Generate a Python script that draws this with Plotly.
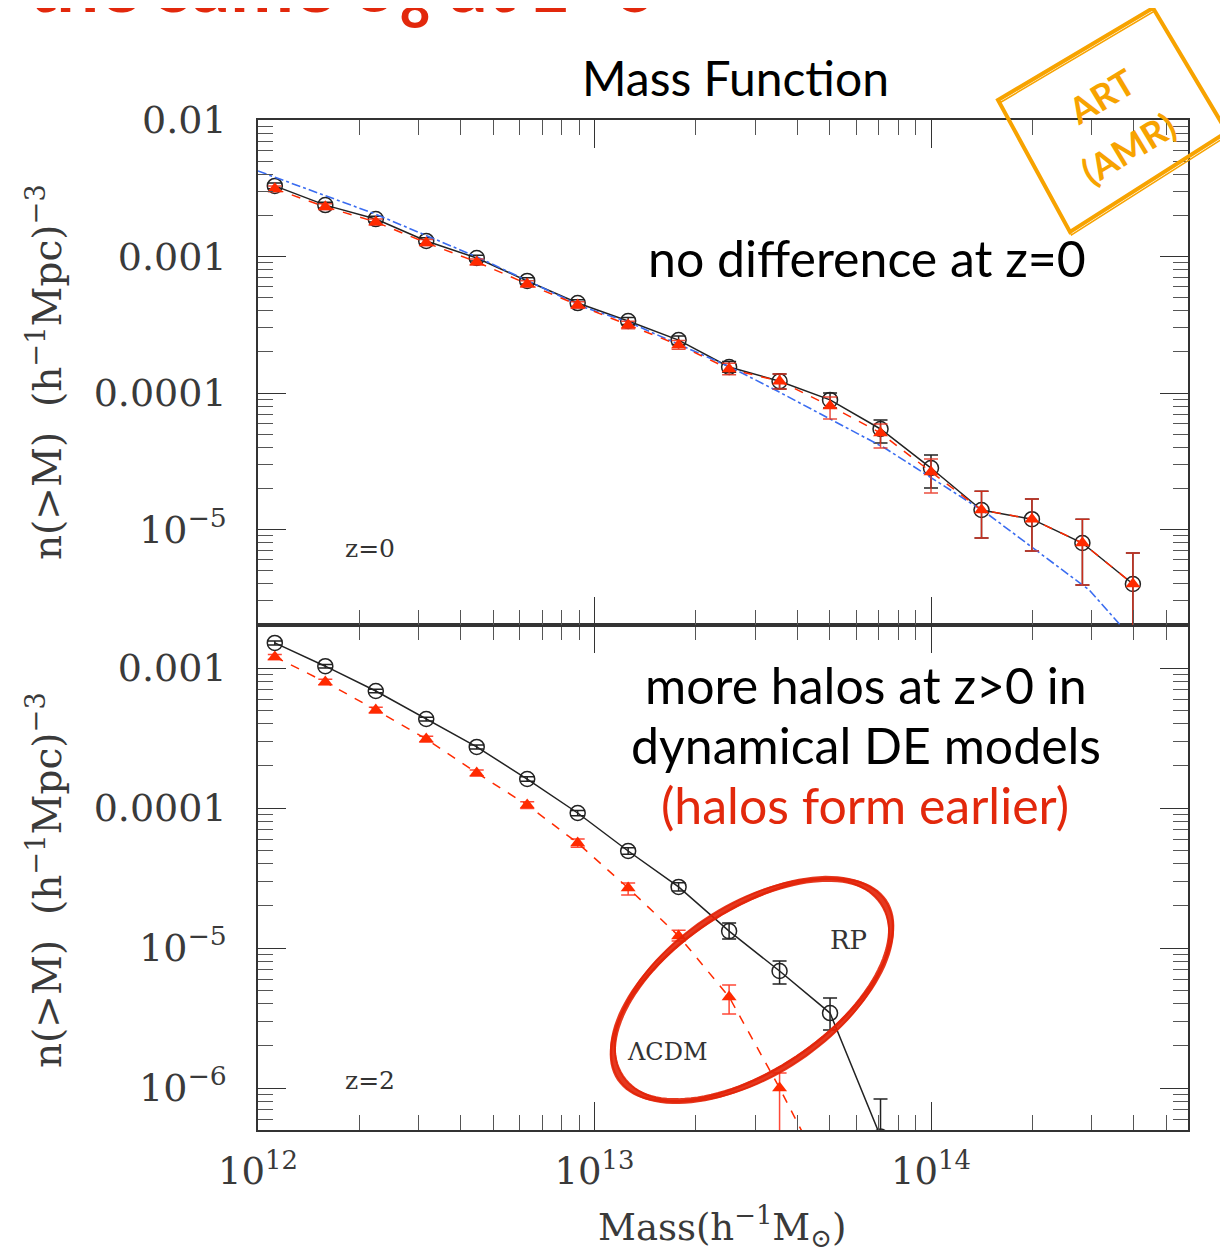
import numpy as np
import plotly.graph_objects as go

# ---------------- data ----------------
mass = [1.122e12, 1.585e12, 2.239e12, 3.162e12, 4.467e12, 6.310e12, 8.913e12,
        1.259e13, 1.778e13, 2.512e13, 3.548e13, 5.012e13, 7.079e13, 1.000e14,
        1.413e14, 1.995e14, 2.818e14, 3.981e14]

# z = 0 panel
rp_z0 = [3.29e-3, 2.38e-3, 1.88e-3, 1.30e-3, 9.75e-4, 6.62e-4, 4.56e-4, 3.37e-4, 2.44e-4,
         1.55e-4, 1.22e-4, 8.9e-5, 5.45e-5, 2.82e-5, 1.39e-5, 1.19e-5, 7.96e-6, 3.99e-6]
rp_z0_hi = [3.45e-3, 2.50e-3, 1.97e-3, 1.37e-3, 1.02e-3, 6.98e-4, 4.82e-4, 3.58e-4, 2.62e-4,
            1.70e-4, 1.38e-4, 1.00e-4, 6.34e-5, 3.52e-5, 1.91e-5, 1.67e-5, 1.19e-5, 6.73e-6]
rp_z0_lo = [3.13e-3, 2.27e-3, 1.79e-3, 1.24e-3, 9.25e-4, 6.28e-4, 4.31e-4, 3.17e-4, 2.27e-4,
            1.42e-4, 1.07e-4, 7.76e-5, 4.30e-5, 2.01e-5, 8.67e-6, 6.95e-6, 3.92e-6, 1e-8]

lcdm_z0 = [3.13e-3, 2.31e-3, 1.79e-3, 1.26e-3, 9.12e-4, 6.30e-4, 4.42e-4, 3.15e-4, 2.25e-4,
           1.50e-4, 1.22e-4, 8.04e-5, 5.09e-5, 2.64e-5, 1.39e-5, 1.19e-5, 7.96e-6, 3.99e-6]
lcdm_z0_hi = [3.29e-3, 2.43e-3, 1.88e-3, 1.33e-3, 9.6e-4, 6.65e-4, 4.67e-4, 3.35e-4, 2.42e-4,
              1.65e-4, 1.38e-4, 9.35e-5, 5.93e-5, 3.28e-5, 1.91e-5, 1.67e-5, 1.19e-5, 6.73e-6]
lcdm_z0_lo = [2.98e-3, 2.20e-3, 1.70e-3, 1.20e-3, 8.66e-4, 5.97e-4, 4.18e-4, 2.96e-4, 2.09e-4,
              1.36e-4, 1.07e-4, 6.46e-5, 3.95e-5, 1.85e-5, 8.67e-6, 6.95e-6, 3.92e-6, 1e-8]

theory_mass = [1.0e12, 2.23e12, 4.48e12, 9.25e12, 1.26e13, 2.53e13, 3.53e13, 7.29e13,
               1.46e14, 2.09e14, 2.95e14, 3.65e14, 4.47e14]
theory_z0 = [4.23e-3, 2.05e-3, 9.91e-4, 4.27e-4, 3.31e-4, 1.55e-4, 1.02e-4, 3.95e-5,
             1.32e-5, 6.84e-6, 3.61e-6, 2.0e-6, 1.12e-6]

# z = 2 panel
rp_z2 = [1.51e-3, 1.03e-3, 6.85e-4, 4.32e-4, 2.73e-4, 1.61e-4, 9.21e-5, 4.93e-5, 2.73e-5,
         1.32e-5, 6.85e-6, 3.43e-6, 4.5e-7]
rp_z2_hi = [1.56e-3, 1.06e-3, 7.05e-4, 4.45e-4, 2.82e-4, 1.67e-4, 9.6e-5, 5.2e-5, 2.92e-5,
            1.51e-5, 8.07e-6, 4.40e-6, 8.34e-7]
rp_z2_lo = [1.46e-3, 1.00e-3, 6.65e-4, 4.19e-4, 2.64e-4, 1.55e-4, 8.8e-5, 4.67e-5, 2.55e-5,
            1.16e-5, 5.53e-6, 2.60e-6, 1e-8]

lcdm_z2 = [1.20e-3, 7.94e-4, 5.01e-4, 3.11e-4, 1.78e-4, 1.05e-4, 5.62e-5, 2.68e-5, 1.22e-5,
           4.47e-6, 1.0e-6, 2.0e-7]
lcdm_z2_hi = [1.25e-3, 8.3e-4, 5.25e-4, 3.26e-4, 1.87e-4, 1.11e-4, 6.0e-5, 2.91e-5, 1.34e-5,
              5.45e-6, 1.28e-6, 2.5e-7]
lcdm_z2_lo = [1.15e-3, 7.6e-4, 4.78e-4, 2.96e-4, 1.69e-4, 9.9e-5, 5.25e-5, 2.39e-5, 1.12e-5,
              3.38e-6, 1e-8, 1e-8]

x_tickvals = [1e12, 1e13, 1e14]
x_ticktext = ["10<sup>12</sup>", "10<sup>13</sup>", "10<sup>14</sup>"]
y_top_tickvals = [1e-2, 1e-3, 1e-4, 1e-5]
y_top_ticktext = ["0.01", "0.001", "0.0001", "10<sup>−5</sup>"]
y_bot_tickvals = [1e-3, 1e-4, 1e-5, 1e-6]
y_bot_ticktext = ["0.001", "0.0001", "10<sup>−5</sup>", "10<sup>−6</sup>"]

# ---------------- styling ----------------
OFF = 8                      # browser body margin
W, H = 1228 - OFF, 1254 - OFF
ML, MR, MT, MB = 258 - OFF, 40, 120 - OFF, 124
PW, PH = W - ML - MR, H - MT - MB
BLACK = "#222222"
RED = "#ff2a00"
BLUE = "#3a6cf0"
TXTRED = "#e2280c"
ORANGE = "#f7a300"
SERIF = "DejaVu Serif"
SANS = "Lato"


def px(xp):
    return (xp - OFF - ML) / PW


def py(yp):
    return (MT + PH - (yp - OFF)) / PH


def errs(v, hi, lo):
    v, hi, lo = np.array(v), np.array(hi), np.array(lo)
    return dict(type="data", symmetric=False, array=hi - v, arrayminus=v - lo)


fig = go.Figure()

# top panel (xaxis2 / yaxis2)
e = errs(rp_z0, rp_z0_hi, rp_z0_lo)
e.update(color=BLACK, thickness=1.5, width=7)
fig.add_trace(go.Scatter(x=mass, y=rp_z0, xaxis="x2", yaxis="y2", mode="lines+markers",
                         line=dict(color=BLACK, width=1.5),
                         marker=dict(symbol="circle-open", size=15, color=BLACK, line=dict(width=1.5)),
                         error_y=e, showlegend=False))
fig.add_trace(go.Scatter(x=theory_mass, y=theory_z0, xaxis="x2", yaxis="y2", mode="lines",
                         line=dict(color=BLUE, width=1.6, dash="dashdot"), showlegend=False))
e = errs(lcdm_z0, lcdm_z0_hi, lcdm_z0_lo)
e.update(color="rgba(232,48,28,0.85)", thickness=1.5, width=7)
fig.add_trace(go.Scatter(x=mass, y=lcdm_z0, xaxis="x2", yaxis="y2", mode="lines+markers",
                         line=dict(color=RED, width=1.5, dash="dash"),
                         marker=dict(symbol="triangle-up", size=13, color=RED),
                         error_y=e, showlegend=False))

# bottom panel (xaxis / yaxis)
e = errs(rp_z2, rp_z2_hi, rp_z2_lo)
e.update(color=BLACK, thickness=1.5, width=7)
fig.add_trace(go.Scatter(x=mass[:len(rp_z2)], y=rp_z2, mode="lines+markers",
                         line=dict(color=BLACK, width=1.5),
                         marker=dict(symbol="circle-open", size=15, color=BLACK, line=dict(width=1.5)),
                         error_y=e, showlegend=False))
e = errs(lcdm_z2, lcdm_z2_hi, lcdm_z2_lo)
e.update(color="rgba(255,40,20,0.85)", thickness=1.5, width=7)
fig.add_trace(go.Scatter(x=mass[:len(lcdm_z2)], y=lcdm_z2, mode="lines+markers",
                         line=dict(color=RED, width=1.5, dash="dash"),
                         marker=dict(symbol="triangle-up", size=13, color=RED),
                         error_y=e, showlegend=False))

minor_x = [k * 10.0 ** d for d in range(11, 16) for k in range(2, 10)]
minor_y = [k * 10.0 ** d for d in range(-9, -1) for k in range(2, 10)]

xcommon = dict(type="log", range=[12, 12 + PW / 336.5], showline=True, linecolor="#333",
               linewidth=1.5, mirror="allticks", ticks="inside", ticklen=28, tickwidth=1.3,
               tickcolor="#333", showgrid=False, zeroline=False,
               tickmode="array", tickvals=x_tickvals,
               minor=dict(ticks="inside", ticklen=15, tickwidth=1.2, tickcolor="#555",
                          tickmode="array", tickvals=minor_x, showgrid=False))
ycommon = dict(type="log", showline=True, linecolor="#333", linewidth=1.5, mirror="allticks",
               ticks="inside", ticklen=28, tickwidth=1.3, tickcolor="#333", showgrid=False,
               zeroline=False, tickmode="array",
               tickfont=dict(family=SERIF, size=38, color="#3a3a3a"), ticklabelstandoff=22,
               minor=dict(ticks="inside", ticklen=15, tickwidth=1.2, tickcolor="#555",
                          tickmode="array", tickvals=minor_y, showgrid=False))

fig.update_layout(
    width=W, height=H, margin=dict(l=ML, r=MR, t=MT, b=MB, autoexpand=False),
    paper_bgcolor="white", plot_bgcolor="white",
    xaxis=dict(**xcommon, anchor="y", domain=[0, 1], ticktext=x_ticktext,
               tickfont=dict(family=SERIF, size=37, color="#3a3a3a"), ticklabelstandoff=8),
    xaxis2=dict(**xcommon, anchor="y2", domain=[0, 1], showticklabels=False),
    yaxis=dict(**ycommon, anchor="x", domain=[0, 0.5], range=[-6.3, -3 + 43 / 140],
               tickvals=y_bot_tickvals, ticktext=y_bot_ticktext),
    yaxis2=dict(**ycommon, anchor="x2", domain=[0.5, 1], range=[-2 - 505 / 136.5, -2],
                tickvals=y_top_tickvals, ticktext=y_top_ticktext),
)

ann = []


def text(t, xp, yp, size, color="black", family=SANS, angle=0, xanchor="center", yanchor="middle"):
    ann.append(dict(text=t, x=px(xp), y=py(yp), xref="paper", yref="paper", showarrow=False,
                    font=dict(family=family, size=size, color=color), textangle=angle,
                    xanchor=xanchor, yanchor=yanchor))


text("<b>the same σ<sub>8</sub> at z=0</b>", 342, 41, 76, TXTRED, yanchor="bottom")
text("Mass Function", 735, 78, 48)
text("no difference at z=0", 867, 258, 50)
text("more halos at z>0 in", 866, 685, 50)
text("dynamical DE models", 866, 745, 50)
text("(halos form earlier)", 865, 805, 50, TXTRED)
text("z=0", 370, 548, 25, "#333", SERIF)
text("z=2", 370, 1080, 25, "#333", SERIF)
text("RP", 848, 940, 26, "#333", SERIF)
text("ΛCDM", 667, 1052, 24, "#333", SERIF)
text("Mass(h<sup>−1</sup>M<sub>⊙</sub>)", 722, 1226, 37, "#3a3a3a", SERIF)
ytitle = "n(>M)  (h<sup>−1</sup>Mpc)<sup>−3</sup>"
text(ytitle, 45, 372, 39, "#3a3a3a", SERIF, angle=-90)
text(ytitle, 45, 880, 39, "#3a3a3a", SERIF, angle=-90)
text("<b>ART</b>", 1101, 96, 36, ORANGE, SANS, angle=-31)
text("<b>(AMR)</b>", 1128, 148, 36, ORANGE, SANS, angle=-31)
fig.update_layout(annotations=ann)

shapes = []
# hand-drawn ellipse around the high-mass z=2 points
cx, cy, a, b, th = 752, 990, 158, 82, np.deg2rad(33.75)
for da, db, wdt in [(0, 0, 6), (3, -2, 2.5), (-3, 3, 2)]:
    t = np.linspace(0, 2 * np.pi, 121)
    xs = cx + (a + da) * np.cos(t) * np.cos(th) + (b + db) * np.sin(t) * np.sin(th)
    ys = cy - (a + da) * np.cos(t) * np.sin(th) + (b + db) * np.sin(t) * np.cos(th)
    path = "M " + " L ".join(f"{px(x):.5f},{py(y):.5f}" for x, y in zip(xs, ys)) + " Z"
    shapes.append(dict(type="path", path=path, xref="paper", yref="paper",
                       line=dict(color="rgba(226,36,8,0.9)", width=wdt), layer="above"))

# stamp rectangle
corners = [(998, 100), (1153, 8), (1227, 132), (1070, 232)]
for off, wdt in [(0, 4), (3, 1.5)]:
    pts = [(x + off * 0.5, y + off) for x, y in corners]
    path = "M " + " L ".join(f"{px(x):.5f},{py(y):.5f}" for x, y in pts) + " Z"
    shapes.append(dict(type="path", path=path, xref="paper", yref="paper",
                       line=dict(color=ORANGE, width=wdt), layer="above"))
fig.update_layout(shapes=shapes)

fig.write_html("out.html")
